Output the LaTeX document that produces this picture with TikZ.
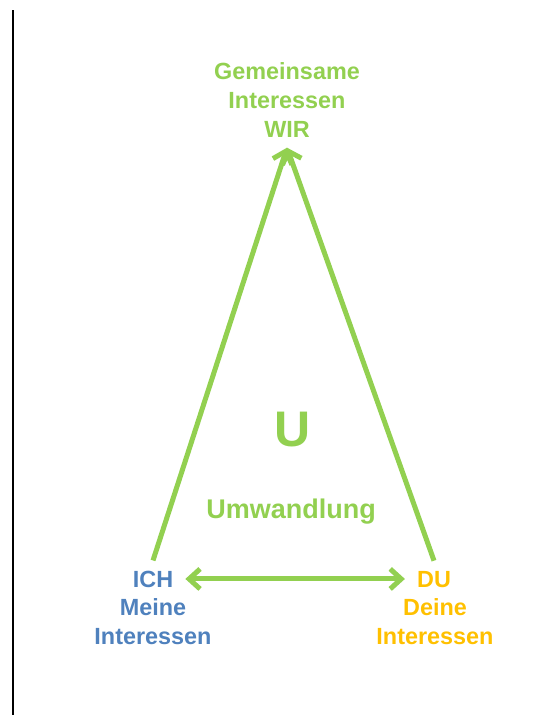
\documentclass[tikz,border=0pt]{standalone}
\usepackage{fontspec}
\setmainfont{Liberation Sans}
\usetikzlibrary{arrows.meta}

\definecolor{wirgreen}{HTML}{92D050}
\definecolor{ichblue}{HTML}{4F81BD}
\definecolor{duorange}{HTML}{FFC000}

\tikzstyle{textnode}=[font=\bfseries\fontsize{23.4}{29}\selectfont,align=center,inner sep=3pt]
\tikzstyle{pfeil}=[wirgreen,line width=5pt,-{Straight Barb[length=11pt,width=20pt]}]

\begin{document}
\begin{tikzpicture}[x=1pt,y=-1pt]
	\useasboundingbox (0,0) rectangle (538,715);
	\draw[line width=2.5pt] (13,10)--(13,715);
	
	\node[textnode,wirgreen,inner ysep=10pt] (wir) at (287,100) {Gemeinsame\\Interessen\\WIR};
	
	\node[textnode,ichblue,anchor=base,inner xsep=12pt,inner ysep=10pt] (ich) at (153,587) {ICH};
	\node[textnode,ichblue] (meine) at (153,622) {Meine\\Interessen};
	
	\node[textnode,duorange,anchor=base,inner xsep=12pt,inner ysep=10pt] (du) at (434,587) {DU};
	\node[textnode,duorange] (deine) at (435,622) {Deine\\Interessen};
	
	\node[wirgreen,font=\bfseries\fontsize{50}{60}\selectfont,anchor=base] (u) at (293,446) {U};
	\node[wirgreen,font=\bfseries\fontsize{27}{32}\selectfont,anchor=base] (umw) at (291,518) {Umwandlung};
	
	\draw[pfeil] (ich.north)--(wir.south);
	\draw[pfeil] (du.north)--(wir.south);
	\draw[pfeil,{Straight Barb[length=11pt,width=20pt]}-{Straight Barb[length=11pt,width=20pt]}] (ich.east)--(ich.east -| du.west);
\end{tikzpicture}
\end{document}
